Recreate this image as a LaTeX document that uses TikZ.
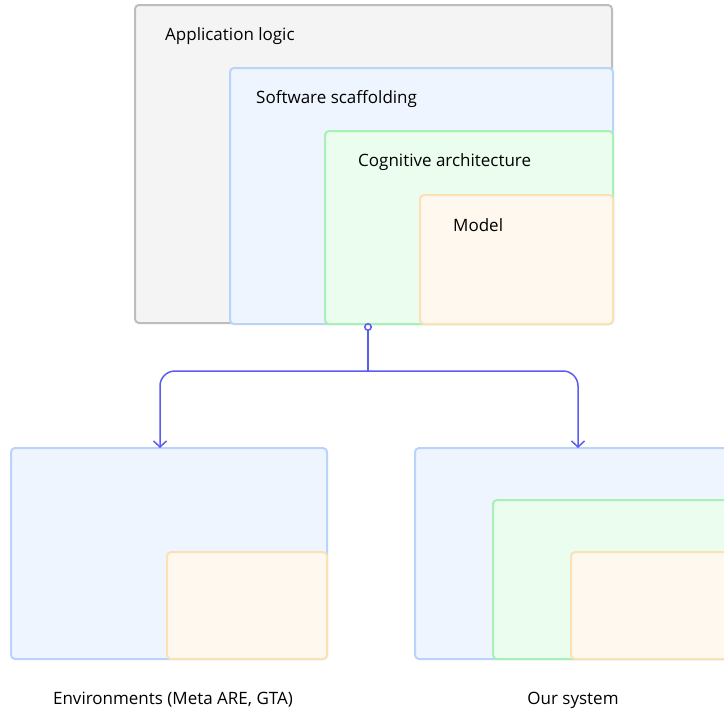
\documentclass[tikz,border=0pt]{standalone}
\usepackage{fontspec}
\setmainfont{Open Sans}
\usetikzlibrary{arrows.meta}
\definecolor{grayfill}{HTML}{F4F4F4}
\definecolor{graydraw}{HTML}{BDBDBD}
\definecolor{bluefill}{HTML}{EEF5FE}
\definecolor{bluedraw}{HTML}{B8D4FB}
\definecolor{greenfill}{HTML}{EBFDEF}
\definecolor{greendraw}{HTML}{A9F0B4}
\definecolor{orangefill}{HTML}{FEF8EE}
\definecolor{orangedraw}{HTML}{FBE1B5}
\definecolor{linkcol}{HTML}{5C5CF0}
\tikzset{
  layer/.style={rectangle, rounded corners=4pt, line width=2pt, inner sep=0pt, outer sep=0pt, anchor=north west},
  applayer/.style={layer, fill=grayfill, draw=graydraw},
  swlayer/.style={layer, fill=bluefill, draw=bluedraw},
  coglayer/.style={layer, fill=greenfill, draw=greendraw},
  modellayer/.style={layer, fill=orangefill, draw=orangedraw},
  lbl/.style={anchor=west, inner sep=0pt, font=\fontsize{17}{20}\selectfont, text=black},
  captiontext/.style={inner sep=0pt, font=\fontsize{17}{20}\selectfont, text=black},
  conn/.style={draw=linkcol, line width=1.5pt},
}
\newcommand{\layerbox}[6]{% style, name, x0, y0, x1, y1
  \node[#1, minimum width={#5pt-#3pt}, minimum height={#6pt-#4pt}] (#2) at (#3,#4) {};}
\begin{document}
\begin{tikzpicture}[x=1pt, y=-1pt]
  \clip (0,0) rectangle (724,710);
  \fill[white] (0,0) rectangle (724,710);

  % layered stack at the top
  \layerbox{applayer}{app}{135}{5}{612}{323}
  \layerbox{swlayer}{sw}{230}{68}{613}{324}
  \layerbox{coglayer}{cog}{325}{131}{613}{324}
  \layerbox{modellayer}{model}{420}{195}{613}{324}
  \node[lbl] (appt) at (165,36) {Application logic};
  \node[lbl] (swt) at (256,99) {Software scaffolding};
  \node[lbl] (cogt) at (358,162) {Cognitive architecture};
  \node[lbl] (modelt) at (453,225) {Model};

  % left stack: environments
  \layerbox{swlayer}{envsw}{11}{448}{327}{659}
  \layerbox{modellayer}{envmodel}{167}{552}{327}{659}
  \node[captiontext] (envt) at (173,700) {Environments (Meta ARE, GTA)};

  % right stack: our system
  \layerbox{swlayer}{oursw}{415}{448}{760}{659}
  \layerbox{coglayer}{ourcog}{493}{500}{760}{659}
  \layerbox{modellayer}{ourmodel}{571}{552}{760}{659}
  \node[captiontext] (ourt) at (573,700) {Our system};

  % branching connector
  \coordinate (src) at (app.south -| 368,0);
  \coordinate (split) at (368,371);
  \coordinate (ltip) at (envsw.north -| 160,0);
  \coordinate (rtip) at (oursw.north -| 578,0);
  \draw[conn, {Circle[open, length=8pt, width=8pt, line width=1.5pt]}-] (src) -- (split);
  \draw[conn, rounded corners=15pt, -{Straight Barb[length=6pt, width=13pt, line width=1.5pt]}] (split) -| (ltip);
  \draw[conn, rounded corners=15pt, -{Straight Barb[length=6pt, width=13pt, line width=1.5pt]}] (split) -| (rtip);
\end{tikzpicture}
\end{document}
